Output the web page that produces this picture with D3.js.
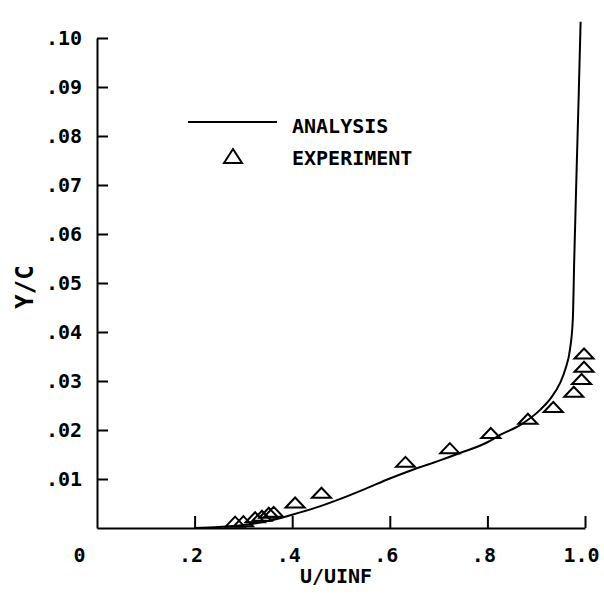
<!DOCTYPE html>
<html>
<head>
<meta charset="utf-8">
<script src="https://cdn.jsdelivr.net/npm/d3@7"></script>
<style>
  html, body { margin: 0; padding: 0; background: #fff; }
  svg text { font-family: "DejaVu Sans Mono", "Liberation Mono", monospace; font-weight: bold; fill: #000; }
</style>
</head>
<body>
<svg id="chart" width="604" height="598"></svg>
<script>
// Boundary-layer velocity profile: computed (analysis) vs measured (experiment)
const analysisU = [0.20, 0.25, 0.30, 0.35, 0.40, 0.45, 0.50, 0.55, 0.60, 0.65, 0.70, 0.744, 0.80, 0.826, 0.867, 0.908, 0.93, 0.949, 0.960, 0.969, 0.975, 0.978, 0.983, 0.987, 0.991];
const analysisY = [0.0000, 0.0002, 0.0006, 0.0014, 0.0027, 0.0042, 0.0060, 0.0080, 0.0101, 0.0120, 0.0137, 0.0153, 0.0175, 0.0190, 0.0210, 0.0241, 0.0265, 0.0296, 0.0325, 0.0363, 0.0425, 0.0550, 0.0737, 0.0880, 0.1033];

const experimentU = [0.283, 0.300, 0.324, 0.338, 0.352, 0.362, 0.406, 0.460, 0.632, 0.723, 0.807, 0.883, 0.935, 0.977, 0.993, 0.998, 0.998];
const experimentY = [0.0013, 0.0014, 0.0022, 0.0025, 0.0031, 0.0033, 0.0052, 0.0072, 0.0135, 0.0163, 0.0194, 0.0223, 0.0247, 0.0278, 0.0304, 0.0329, 0.0356];

const xTicks = [0, 0.2, 0.4, 0.6, 0.8, 1.0];
const yTicks = [0.01, 0.02, 0.03, 0.04, 0.05, 0.06, 0.07, 0.08, 0.09, 0.10];
const seriesNames = ["ANALYSIS", "EXPERIMENT"];
const xTitle = "U/UINF";
const yTitle = "Y/C";

const svg = d3.select("#chart");
const x = d3.scaleLinear().domain([0, 1]).range([97, 585]);
const y = d3.scaleLinear().domain([0, 0.1]).range([528, 38]);

// Axes with inward ticks
const xAxis = d3.axisBottom(x)
  .tickValues(xTicks)
  .tickSizeInner(-12).tickSizeOuter(0).tickPadding(20)
  .tickFormat(d => d === 0 ? "0" : d === 1 ? "1.0" : d3.format(".1f")(d).replace(/^0/, ""));
const gx = svg.append("g").attr("transform", `translate(0,${y(0)})`).call(xAxis);
gx.selectAll(".tick line").filter(d => d === 0).remove();
gx.selectAll(".tick text").attr("font-size", 20).attr("dx", d => d === 0 ? -18 : -4);

const yAxis = d3.axisLeft(y)
  .tickValues(yTicks)
  .tickSizeInner(-11).tickSizeOuter(0).tickPadding(15)
  .tickFormat(d => d3.format(".2f")(d).replace(/^0/, ""));
const gy = svg.append("g").attr("transform", `translate(${x(0)},0)`).call(yAxis);
gy.selectAll(".tick text").attr("font-size", 20);

svg.selectAll(".domain, .tick line").attr("stroke", "#000").attr("stroke-width", 2);
svg.selectAll(".tick text").attr("font-family", null).attr("fill", "#000");

// Axis titles
svg.append("text").attr("x", 336).attr("y", 583).attr("text-anchor", "middle")
  .attr("font-size", 20).text(xTitle);
svg.append("text").attr("transform", "translate(33,287) rotate(-90)")
  .attr("text-anchor", "middle").attr("font-size", 24).text(yTitle);

// Analysis curve
const lineData = analysisU.map((u, i) => [u, analysisY[i]]);
const line = d3.line().x(d => x(d[0])).y(d => y(d[1])).curve(d3.curveMonotoneX);
svg.append("path").datum(lineData).attr("d", line)
  .attr("fill", "none").attr("stroke", "#000").attr("stroke-width", 2);

// Experiment markers: open flat triangles
const tri = (w, h) => `M${-w / 2},${h / 2}L0,${-h / 2}L${w / 2},${h / 2}Z`;
const pts = experimentU.map((u, i) => [u, experimentY[i]]);
svg.append("g").selectAll("path").data(pts).join("path")
  .attr("transform", d => `translate(${x(d[0])},${y(d[1])})`)
  .attr("d", tri(19, 10))
  .attr("fill", "none").attr("stroke", "#000").attr("stroke-width", 2);

// Legend
const lg = svg.append("g");
lg.append("line").attr("x1", 188).attr("x2", 277).attr("y1", 122).attr("y2", 122)
  .attr("stroke", "#000").attr("stroke-width", 2);
lg.append("text").attr("x", 292).attr("y", 133).attr("font-size", 20).text(seriesNames[0]);
lg.append("path").attr("transform", "translate(233,156)").attr("d", tri(18, 14))
  .attr("fill", "none").attr("stroke", "#000").attr("stroke-width", 2);
lg.append("text").attr("x", 292).attr("y", 165).attr("font-size", 20).text(seriesNames[1]);
</script>
</body>
</html>
